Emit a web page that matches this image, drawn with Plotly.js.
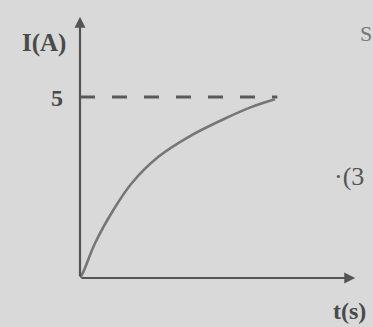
<!DOCTYPE html>
<html>
<head>
<meta charset="utf-8">
<script src="https://cdn.plot.ly/plotly-3.0.1.min.js"></script>
<style>
html,body{margin:0;padding:0;background:#d8d8d8;}
#chart{width:373px;height:327px;}
</style>
</head>
<body>
<div id="chart"></div>
<script>
// Values (t in s, I in A)
var tValues = [0, 0.12, 0.54, 1.20, 1.86, 2.82, 4.02, 5.22, 6.18, 7.01];
var iValues = [0, 0.17, 0.96, 1.88, 2.62, 3.35, 3.95, 4.41, 4.73, 4.94];
var steadyCurrent = 5;
var dashT = [0, 7.1];
var yTickVals = [5];
var yTickText = ['5'];
var xLabel = 't(s)';
var yLabel = 'I(A)';
var xMax = 10, yMax = 7.27;

var ink = '#4a4a4a';
var fontFam = '"Liberation Serif", "DejaVu Serif", serif';

var traces = [
  {x: dashT, y: [steadyCurrent, steadyCurrent], mode: 'lines',
   line: {color: '#5a5a5a', width: 3, dash: '15px,17px'}, hoverinfo: 'skip'},
  {x: tValues, y: iValues, mode: 'lines',
   line: {color: '#767676', width: 2.6, shape: 'spline', smoothing: 1}, hoverinfo: 'skip'}
];

var layout = {
  width: 373, height: 327,
  margin: {l: 80, r: 15, t: 15, b: 49},
  paper_bgcolor: '#d9d9d9', plot_bgcolor: 'rgba(0,0,0,0)',
  showlegend: false,
  xaxis: {range: [0, xMax], showgrid: false, zeroline: false, showline: false,
          showticklabels: false, ticks: ''},
  yaxis: {range: [0, yMax], showgrid: false, zeroline: false, showline: false,
          tickvals: yTickVals, ticktext: yTickText, ticks: '', ticklabelstandoff: 16,
          tickfont: {family: fontFam, size: 24, color: ink, weight: 'bold'}},
  annotations: [
    {x: 0, y: yMax - 0.05, ax: 0, ay: 0, xref: 'x', yref: 'y', axref: 'x', ayref: 'y',
     showarrow: true, arrowhead: 2, arrowsize: 1, arrowwidth: 2.2, arrowcolor: '#555', text: ''},
    {x: 9.9, y: 0, ax: 0, ay: 0, xref: 'x', yref: 'y', axref: 'x', ayref: 'y',
     showarrow: true, arrowhead: 2, arrowsize: 1, arrowwidth: 2.2, arrowcolor: '#555', text: ''},
    {x: 44, y: 43, text: '<b>' + yLabel + '</b>', showarrow: false,
     font: {family: fontFam, size: 25, color: ink}},
    {x: 349, y: 311, text: '<b>' + xLabel + '</b>', showarrow: false,
     font: {family: fontFam, size: 24, color: ink}},
    {x: 349, y: 177, text: '·(3', showarrow: false,
     font: {family: fontFam, size: 26, color: '#555'}},
    {x: 366, y: 34, text: 'S', showarrow: false,
     font: {family: fontFam, size: 22, color: '#777'}}
  ]
};
// convert pixel-positioned text annotations to paper coords
var pw = 373 - 80 - 15, ph = 327 - 15 - 49;
layout.annotations.forEach(function(a, i){
  if (i >= 2) {
    a.xref = 'paper'; a.yref = 'paper';
    a.xanchor = 'center'; a.yanchor = 'middle';
    a.x = (a.x - 80) / pw; a.y = (327 - 49 - a.y) / ph;
  }
});
Plotly.newPlot('chart', traces, layout, {staticPlot: true, displayModeBar: false});
</script>
</body>
</html>
